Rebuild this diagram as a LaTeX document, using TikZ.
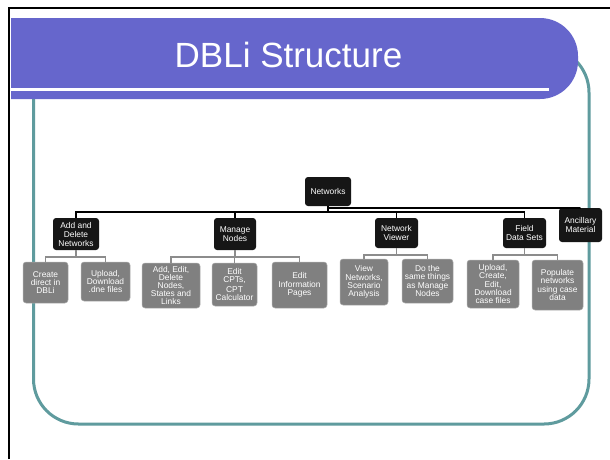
\documentclass[tikz,border=0pt]{standalone}
\usepackage{fontspec}
\setmainfont{Liberation Sans}
\definecolor{bannerc}{RGB}{102,102,204}
\definecolor{tealc}{RGB}{95,155,158}
\definecolor{grayc}{RGB}{128,128,128}
\definecolor{grayedge}{RGB}{175,175,175}
\definecolor{grayline}{RGB}{140,140,140}
\definecolor{blkc}{RGB}{22,22,22}
\begin{document}
\begin{tikzpicture}[x=1pt,y=-1pt,
  blk/.style={fill=blkc, rounded corners=3pt, text=white, align=center,
    font=\fontsize{8.4}{9}\selectfont, inner sep=1pt},
  gry/.style={fill=grayc, draw=grayedge, line width=0.5pt,
    rounded corners=3pt, text=white, align=center,
    font=\fontsize{8.4}{8.2}\selectfont, inner sep=1pt},
  topc/.style={draw=black, line width=1.3pt},
  botc/.style={draw=grayline, line width=1.3pt}]
\useasboundingbox (0,0) rectangle (610,459);
\fill[white] (0,0) rectangle (610,459);
% teal frame
\draw[tealc, line width=3pt, rounded corners=45pt] (33.5,47.5) rectangle (589,424);
% banner
\begin{scope}
  \clip (11,0) rectangle (610,459);
  \fill[bannerc, rounded corners=38pt] (-60,18) rectangle (578,99);
\end{scope}
\draw[white, line width=3pt] (11,89.5) -- (549,89.5);
\node[text=white, font=\fontsize{35}{40}\selectfont, anchor=base] (title) at (288.5,67) {DBLi Structure};
% slide frame
\draw[black, line width=2pt] (9,459) -- (9,8) -- (610,8);
% level 0 and 1
\node[blk, minimum width=46pt, minimum height=29pt] (net) at (328,191.5) {Networks};
\node[blk, minimum width=46pt, minimum height=32pt] (add) at (76,234) {Add and\\Delete\\Networks};
\node[blk, minimum width=42pt, minimum height=32pt] (man) at (235,234) {Manage\\Nodes};
\node[blk, minimum width=43pt, minimum height=30pt] (view) at (396.5,233) {Network\\Viewer};
\node[blk, minimum width=43pt, minimum height=30pt] (field) at (524.5,233) {Field\\Data Sets};
\node[blk, minimum width=43pt, minimum height=34pt] (anc) at (580.5,225) {Ancillary\\Material};
% level 2
\node[gry, minimum width=45pt, minimum height=41pt] (create) at (45.5,282.5) {Create\\direct in\\DBLi};
\node[gry, minimum width=49pt, minimum height=39pt] (upload) at (105.5,281.5) {Upload,\\Download\\.dne files};
\node[gry, minimum width=58pt, minimum height=45pt] (addedit) at (171,285.5) {Add, Edit,\\Delete\\Nodes,\\States and\\Links};
\node[gry, minimum width=45pt, minimum height=43pt] (cpt) at (234.5,284.5) {Edit\\CPTs,\\[2pt]CPT\\Calculator};
\node[gry, minimum width=55pt, minimum height=46pt] (info) at (299.5,285) {Edit\\Information\\Pages};
\node[gry, minimum width=48pt, minimum height=46pt] (viewnet) at (364,282) {View\\Networks,\\Scenario\\Analysis};
\node[gry, minimum width=51pt, minimum height=44pt] (same) at (427.5,281) {Do the\\same things\\as Manage\\Nodes};
\node[gry, minimum width=52pt, minimum height=48pt] (upcase) at (493,284) {Upload,\\Create,\\Edit,\\Download\\case files};
\node[gry, minimum width=51pt, minimum height=50pt] (pop) at (557.5,285) {Populate\\networks\\using case\\data};
% top connectors
\coordinate (tj) at (328,212);
\coordinate (aj) at (328,208);
\draw[topc] (net.south) -- (tj);
\draw[topc] (add.north) |- (tj);
\draw[topc] (man.north) |- (tj);
\draw[topc] (view.north) |- (tj);
\draw[topc] (field.north) |- (tj);
\draw[topc] (aj) -| (anc.north);
% lower connectors
\coordinate (j1) at (76,257);
\draw[botc] (add.south) -- (j1);
\draw[botc] (create.north) |- (j1);
\draw[botc] (upload.north) |- (j1);
\coordinate (j2) at (235,257);
\draw[botc] (man.south) -- (j2);
\draw[botc] (addedit.north) |- (j2);
\draw[botc] (cpt.north) |- (j2);
\draw[botc] (info.north) |- (j2);
\coordinate (j3) at (396.5,255);
\draw[botc] (view.south) -- (j3);
\draw[botc] (viewnet.north) |- (j3);
\draw[botc] (same.north) |- (j3);
\coordinate (j4) at (524.5,255);
\draw[botc] (field.south) -- (j4);
\draw[botc] (upcase.north) |- (j4);
\draw[botc] (pop.north) |- (j4);
\end{tikzpicture}
\end{document}
